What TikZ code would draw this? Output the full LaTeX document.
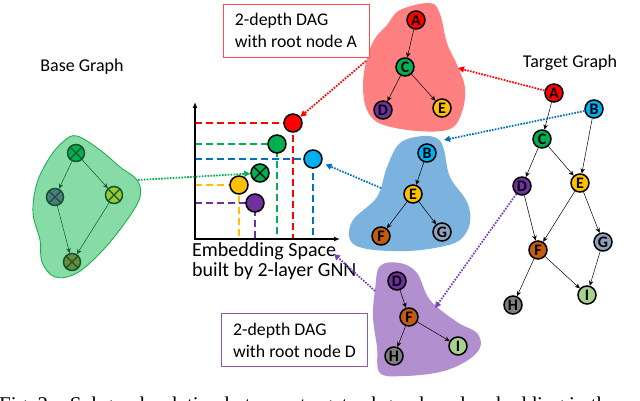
\documentclass[tikz,border=0pt]{standalone}
\usepackage{fontspec}
\setmainfont{Carlito}
\newfontfamily\captionfont{Liberation Serif}
\usetikzlibrary{arrows.meta}

\definecolor{cRed}{HTML}{FF0000}
\definecolor{cGreen}{HTML}{00B050}
\definecolor{cBlue}{HTML}{00B0F0}
\definecolor{cYellow}{HTML}{FFC000}
\definecolor{cPurple}{HTML}{7030A0}
\definecolor{cOrange}{HTML}{C55A11}
\definecolor{cSteel}{HTML}{8EA2BC}
\definecolor{cGray}{HTML}{7F7F7F}
\definecolor{cLime}{HTML}{A9D18E}
\definecolor{redBlob}{HTML}{FF8080}
\definecolor{blueBlob}{HTML}{7BB2DE}
\definecolor{purpleBlob}{HTML}{B290CF}
\definecolor{greenBlob}{HTML}{86DBA7}
\definecolor{greenLine}{HTML}{22B04E}
\definecolor{baseDark}{HTML}{15552B}
\definecolor{baseSlate}{HTML}{4F7A88}
\definecolor{baseLime}{HTML}{9BCB32}
\definecolor{baseOlive}{HTML}{6B8A3A}
\definecolor{hintPurple}{HTML}{7B3FBF}
\definecolor{hintBlue}{HTML}{0070C0}

\tikzset{
  gnode/.style={circle,draw=black,line width=1.5pt,minimum size=18pt,inner sep=0pt,
    font=\bfseries\fontsize{16}{16}\selectfont},
  enode/.style={circle,draw=black,line width=1.5pt,minimum size=18pt,inner sep=0pt},
  xmark/.style={path picture={\draw[line width=1.4pt,#1]
    (path picture bounding box.north west) -- (path picture bounding box.south east)
    (path picture bounding box.north east) -- (path picture bounding box.south west);}},
  bnode/.style={circle,draw=baseDark,line width=1.5pt,minimum size=17pt,inner sep=0pt,xmark=baseDark},
  tedge/.style={-{Stealth[length=5pt,width=4.5pt]},line width=0.5pt},
  hint/.style={line width=1.8pt,dash pattern=on 1.6pt off 1.3pt,-{Triangle[length=6pt,width=6pt]}},
  proj/.style={line width=1.1pt,dash pattern=on 7pt off 4pt},
  dagbox/.style={draw,line width=0.8pt,fill=white,align=left,inner xsep=9pt,inner ysep=0pt,
    minimum width=146pt,minimum height=53pt,font=\fontsize{17.8}{22}\selectfont},
  label/.style={font=\fontsize{18}{21}\selectfont}
}

\begin{document}
\begin{tikzpicture}[x=1pt,y=-1pt]
\useasboundingbox (0,0) rectangle (640,401);
\clip (0,0) rectangle (640,401);

\draw[fill=greenBlob,draw=greenLine,line width=0.9pt] plot[smooth cycle,tension=0.6] coordinates {
  (77,136) (100,150) (120,167) (137,180) (140,197) (127,220) (103,250) (77,273)
  (55,277) (42,262) (40,240) (33,213) (37,183) (50,157) (64,141)};
\fill[redBlob] plot[smooth cycle,tension=0.6] coordinates {
  (400,10) (430,3) (440,14) (447,43) (458,67) (465,88) (462,112) (450,129)
  (417,131) (381,124) (367,110) (363,87) (366,62) (374,40) (387,25)};
\fill[blueBlob] plot[smooth cycle,tension=0.6] coordinates {
  (400,143) (423,136) (438,139) (444,150) (450,177) (467,202) (470,223) (460,240)
  (440,247) (407,251) (367,249) (350,240) (353,220) (377,197) (387,167)};
\fill[purpleBlob] plot[smooth cycle,tension=0.6] coordinates {
  (380,266) (400,263) (417,273) (430,300) (457,322) (477,333) (480,348) (465,362)
  (440,372) (405,376) (380,373) (377,347) (373,317) (375,290)};

\node[label] (base) at (82,67) {Base Graph};
\node[label] (target) at (570,63) {Target Graph};

\node[dagbox,draw=red!70] (boxA) at (296,30.5) {2-depth DAG\\with root node A};
\node[dagbox,draw=cPurple!80] (boxD) at (294.5,340) {2-depth DAG\\with root node D};

\coordinate (O) at (195,239);
\coordinate (ytop) at (195,102);
\coordinate (xend) at (340,239);
\coordinate (pA) at (293,123);
\coordinate (pC) at (277,144);
\coordinate (pB) at (313,159);
\coordinate (pE) at (239,185);
\coordinate (pD) at (255,203);
\draw[proj,cRed] (O |- pA) -- (pA) -- (pA |- O);
\draw[proj,cGreen] (O |- pC) -- (pC) -- (pC |- O);
\draw[proj,hintBlue] (O |- pB) -- (pB) -- (pB |- O);
\draw[proj,cYellow] (O |- pE) -- (pE) -- (pE |- O);
\draw[proj,cPurple] (O |- pD) -- (pD) -- (pD |- O);
\draw[line width=1.3pt,{Latex[length=6pt,width=5pt]}-{Latex[length=6pt,width=5pt]}] (ytop) -- (O) -- (xend);
\node[enode,fill=cRed] (eA) at (pA) {};
\node[enode,fill=cGreen] (eC) at (pC) {};
\node[enode,fill=cBlue] (eB) at (pB) {};
\node[enode,fill=cGreen,xmark=black] (eX) at (260,173) {};
\node[enode,fill=cYellow] (eE) at (pE) {};
\node[enode,fill=cPurple] (eD) at (pD) {};
\node[anchor=north west,align=left,inner sep=0pt,font=\fontsize{20}{20}\selectfont] (emb) at (192,242)
  {Embedding Space\\built by 2-layer GNN};

\node[bnode,fill=cGreen] (bT) at (76,153) {};
\node[bnode,fill=baseSlate] (bL) at (55,197) {};
\node[bnode,fill=baseLime] (bR) at (114,195) {};
\node[bnode,fill=baseOlive] (bB) at (72,262) {};
\draw[tedge,baseDark] (bT) -- (bL);
\draw[tedge,baseDark] (bT) -- (bR);
\draw[tedge,baseDark] (bL) -- (bB);
\draw[tedge,baseDark] (bR) -- (bB);

\node[gnode,fill=cRed] (rA) at (416,20) {A};
\node[gnode,fill=cGreen] (rC) at (405,67) {C};
\node[gnode,fill=cPurple] (rD) at (383,110) {D};
\node[gnode,fill=cYellow] (rE) at (442,108) {E};
\draw[tedge] (rA) -- (rC);
\draw[tedge] (rC) -- (rD);
\draw[tedge] (rC) -- (rE);

\node[gnode,fill=cBlue] (uB) at (427,153) {B};
\node[gnode,fill=cYellow] (uE) at (413,194) {E};
\node[gnode,fill=cOrange] (uF) at (381,236) {F};
\node[gnode,fill=cSteel] (uG) at (442,232) {G};
\draw[tedge] (uB) -- (uE);
\draw[tedge] (uE) -- (uF);
\draw[tedge] (uE) -- (uG);

\node[gnode,fill=cPurple] (vD) at (397,281) {D};
\node[gnode,fill=cOrange] (vF) at (409,317) {F};
\node[gnode,fill=cGray] (vH) at (394,356) {H};
\node[gnode,fill=cLime] (vI) at (458,346) {I};
\draw[tedge] (vD) -- (vF);
\draw[tedge] (vF) -- (vH);
\draw[tedge] (vF) -- (vI);

\node[gnode,fill=cRed] (tA) at (554,93) {A};
\node[gnode,fill=cBlue] (tB) at (594,109) {B};
\node[gnode,fill=cGreen] (tC) at (542,139) {C};
\node[gnode,fill=cPurple] (tD) at (522,186) {D};
\node[gnode,fill=cYellow] (tE) at (580,183) {E};
\node[gnode,fill=cOrange] (tF) at (538,250) {F};
\node[gnode,fill=cSteel] (tG) at (603,242) {G};
\node[gnode,fill=cGray] (tH) at (513,305) {H};
\node[gnode,fill=cLime] (tI) at (587,295) {I};
\draw[tedge] (tA) -- (tC);
\draw[tedge] (tB) -- (tE);
\draw[tedge] (tC) -- (tD);
\draw[tedge] (tC) -- (tE);
\draw[tedge] (tD) -- (tF);
\draw[tedge] (tE) -- (tF);
\draw[tedge] (tE) -- (tG);
\draw[tedge] (tF) -- (tH);
\draw[tedge] (tF) -- (tI);
\draw[tedge] (tG) -- (tI);

\coordinate (redL) at (366,61);
\coordinate (redR) at (458,68);
\coordinate (blueT) at (444,140);
\coordinate (blueL) at (381,188);
\coordinate (purT) at (435,308);
\coordinate (purL) at (375,291);
\coordinate (greenR) at (138,180);
\coordinate (embTip) at (334,254);
\draw[hint,cRed] (redL) -- (eA);
\draw[hint,cRed] (tA) -- (redR);
\draw[hint,hintBlue] (tB) -- (blueT);
\draw[hint,hintBlue,shorten >=4pt] (blueL) -- (eB);
\draw[hint,hintPurple] (tD) -- (purT);
\draw[hint,hintPurple] (purL) -- (embTip);
\draw[hint,cGreen] (greenR) -- (eX);

\node[anchor=base west,inner sep=0pt,font=\captionfont\fontsize{21}{24}\selectfont] (cap) at (-1,411)
  {Fig.~2:~~~Subgraph relation between target subgraph and embedding in the};
\end{tikzpicture}
\end{document}
